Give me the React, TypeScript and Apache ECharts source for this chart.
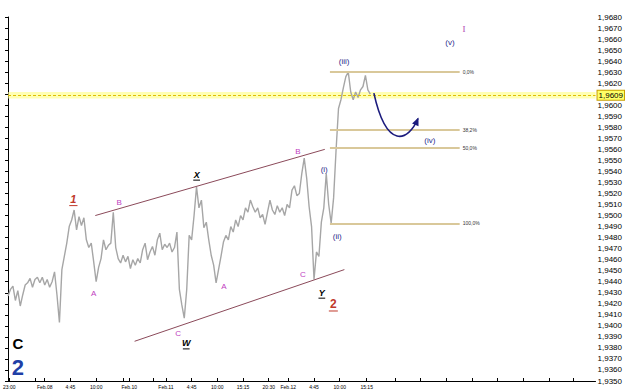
import React, { useEffect, useRef } from 'react';
import * as echarts from 'echarts';

const W = 625;
const H = 392;

// 30-minute closes (x axis is counted in 15-minute bars)
const BAR_STEP = 2;
const closes = [
  1.9427, 1.9433, 1.9436, 1.9423, 1.9432, 1.9418, 1.9428, 1.9437, 1.9439, 1.9443,
  1.9435, 1.9442, 1.9444, 1.9439, 1.9444, 1.9437, 1.9442, 1.9435, 1.9440, 1.9449,
  1.9428, 1.9403, 1.9451, 1.9463, 1.9475, 1.9490, 1.9496, 1.9505, 1.9487, 1.9499,
  1.9491, 1.9498, 1.9478, 1.9471, 1.9475, 1.9458, 1.9440, 1.9453, 1.9461, 1.9478,
  1.9469, 1.9473, 1.9475, 1.9503, 1.9471, 1.9461, 1.9457, 1.9464, 1.9458, 1.9463,
  1.9452, 1.9460, 1.9455, 1.9461, 1.9457, 1.9469, 1.9475, 1.9460, 1.9467, 1.9472,
  1.9464, 1.9478, 1.9484, 1.9469, 1.9474, 1.9471, 1.9475, 1.9467, 1.9471, 1.9485,
  1.9433, 1.9419, 1.9407, 1.9433, 1.9482, 1.9478, 1.9500, 1.9526, 1.9507, 1.9514,
  1.9489, 1.9494, 1.9478, 1.9464, 1.9455, 1.9439, 1.9451, 1.9463, 1.9476, 1.9482,
  1.9478, 1.9490, 1.9485, 1.9496, 1.9490, 1.9500, 1.9496, 1.9507, 1.9503, 1.9514,
  1.9508, 1.9503, 1.9507, 1.9498, 1.9501, 1.9492, 1.9503, 1.9514, 1.9505, 1.9501,
  1.9509, 1.9503, 1.9507, 1.9500, 1.9510, 1.9507, 1.9523, 1.9527, 1.9518, 1.9520,
  1.9538, 1.9552, 1.9534, 1.9508, 1.9490, 1.9442, 1.9467, 1.9463, 1.9494, 1.9507,
  1.9538, 1.9510, 1.9493, 1.9516, 1.9559, 1.9597, 1.9605, 1.9616, 1.9626, 1.9630,
  1.9612, 1.9605, 1.9612, 1.9607, 1.9614, 1.9617, 1.9627, 1.9614, 1.9610,
];

const xTickBars = [1, 22, 30, 51, 72, 94, 99, 119, 129, 150, 171, 192, 213, 229, 250, 271, 293, 316, 337, 358, 379, 400, 421, 442, 462];
const xTickLabels = ['23:00', '', 'Feb.08', '4:45', '10:00', '', 'Feb.10', '', 'Feb.11', '4:45', '10:00', '15:15', '20:30', 'Feb.12', '4:45', '10:00', '15:15', '', '', '', '', '', '', '', ''];

const Y_MIN = 1.935;
const Y_MAX = 1.968;
const CURRENT = 1.9609;

const FIB_HIGH = 1.963;
const FIB_LOW = 1.9493;
const FIB_RATIOS = [0, 0.382, 0.5, 1];
const FIB_START = 263;
const FIB_END = 369;

const channelUpper = [[71.3, 1.95], [258.8, 1.956]];
const channelLower = [[103.4, 1.9386], [274.8, 1.9451]];

// [text, bar, price, color, font, underline]
const labels: [string, number, number, string, string, boolean][] = [
  ['1', 53.4, 1.9515, '#c0392b', 'italic bold 11px "Liberation Sans"', true],
  ['B', 90.8, 1.9512, '#c040c0', '8px "Liberation Sans"', false],
  ['A', 70, 1.9429, '#c040c0', '8px "Liberation Sans"', false],
  ['C', 8, 1.9384, '#000000', 'bold 15px "Liberation Sans"', false],
  ['2', 8, 1.9362, '#1f3fa6', 'bold 22px "Liberation Sans"', false],
  ['C', 138.9, 1.9393, '#c040c0', '8px "Liberation Sans"', false],
  ['W', 145.6, 1.9384, '#000000', 'italic bold 9px "Liberation Sans"', true],
  ['X', 154.1, 1.9537, '#000000', 'italic bold 9px "Liberation Sans"', true],
  ['A', 176.3, 1.9436, '#c040c0', '8px "Liberation Sans"', false],
  ['B', 236.9, 1.9558, '#c040c0', '8px "Liberation Sans"', false],
  ['C', 240.9, 1.9447, '#c040c0', '8px "Liberation Sans"', false],
  ['Y', 256.4, 1.943, '#000000', 'italic bold 9px "Liberation Sans"', true],
  ['2', 265.8, 1.942, '#c0392b', 'bold 12px "Liberation Sans"', true],
  ['(i)', 258.3, 1.9542, '#2b2b8c', '8px "Liberation Sans"', false],
  ['(ii)', 269, 1.9481, '#2b2b8c', '8px "Liberation Sans"', false],
  ['(iii)', 274.6, 1.964, '#2b2b8c', '8px "Liberation Sans"', false],
  ['(iv)', 344.6, 1.9568, '#2b2b8c', '8px "Liberation Sans"', false],
  ['(v)', 361.1, 1.9657, '#2b2b8c', '8px "Liberation Sans"', false],
  ['I', 372.6, 1.9669, '#b040b0', '9px "Liberation Serif"', false],
];

// blue arrow: start, control 1, control 2, end (bar, price)
const arrowPath = [[298.9, 1.9611], [309.3, 1.9559], [326.9, 1.9567], [335, 1.9588]];

const fmtPrice = (v: number) => v.toFixed(4).replace('.', ',');

export default function App() {
  const ref = useRef<HTMLDivElement>(null);
  useEffect(() => {
    if (!ref.current) return;
    const chart = echarts.init(ref.current, null, { renderer: 'svg', width: W, height: H });
    const tickLabelMap: Record<number, string> = {};
    xTickBars.forEach((b, i) => (tickLabelMap[b] = xTickLabels[i]));

    const fibLines = FIB_RATIOS.map((r) => {
      const lvl = FIB_HIGH - r * (FIB_HIGH - FIB_LOW);
      return [
        {
          coord: [FIB_START, lvl],
          lineStyle: { color: '#d9c89a', width: 2, type: 'solid' },
          label: {
            show: true,
            position: 'end',
            formatter: (r * 100).toFixed(1).replace('.', ',') + '%',
            fontSize: 5,
            color: '#333',
            distance: 3,
            fontFamily: 'Liberation Sans',
          },
        },
        { coord: [FIB_END, lvl] },
      ];
    });
    const chanLine = (pts: number[][]) => [
      { coord: pts[0], lineStyle: { color: '#8b4a5a', width: 1, type: 'solid' }, label: { show: false } },
      { coord: pts[1] },
    ];

    chart.setOption({
      animation: false,
      backgroundColor: '#ffffff',
      grid: { left: 0, right: 26, top: 17, bottom: 11 },
      xAxis: {
        type: 'value',
        min: 0,
        max: 480,
        axisLine: { show: true, lineStyle: { color: '#000', width: 1 } },
        axisTick: { show: true, inside: true, length: 3, customValues: xTickBars, lineStyle: { color: '#000' } },
        axisLabel: {
          customValues: xTickBars,
          formatter: (v: number) => tickLabelMap[v] ?? '',
          fontSize: 5,
          color: '#000',
          margin: 3,
          fontFamily: 'Liberation Sans',
          hideOverlap: false,
        },
        splitLine: { show: false },
      },
      yAxis: {
        type: 'value',
        position: 'right',
        min: Y_MIN,
        max: Y_MAX,
        interval: 0.001,
        axisLine: { show: true, lineStyle: { color: '#000', width: 1 } },
        axisTick: { show: true, inside: true, length: 3, lineStyle: { color: '#000' } },
        axisLabel: {
          formatter: fmtPrice,
          fontSize: 8,
          color: '#000',
          margin: 2,
          fontFamily: 'Liberation Sans',
        },
        splitLine: { show: false },
      },
      series: [
        {
          type: 'line',
          data: closes.map((v, i) => [i * BAR_STEP, v]),
          showSymbol: false,
          symbol: 'none',
          lineStyle: { color: '#a6a6a6', width: 1.4 },
          z: 3,
          markArea: {
            silent: true,
            itemStyle: { color: 'rgba(255,255,130,0.6)' },
            data: [[{ yAxis: CURRENT - 0.0003 }, { yAxis: CURRENT + 0.0003 }]],
            z: 1,
          },
          markLine: {
            silent: true,
            precision: 4,
            symbol: ['none', 'none'],
            data: [
              {
                yAxis: CURRENT,
                lineStyle: { color: '#e0c000', width: 1, type: [3, 2] },
                label: {
                  show: true,
                  position: 'end',
                  formatter: fmtPrice(CURRENT),
                  fontSize: 8,
                  color: '#000',
                  backgroundColor: '#ffff66',
                  borderColor: '#c8a000',
                  borderWidth: 1,
                  padding: [1, 1, 0, 1],
                  distance: 2,
                  fontFamily: 'Liberation Sans',
                },
              },
              ...fibLines,
              chanLine(channelUpper),
              chanLine(channelLower),
            ],
          },
        },
      ],
    });

    const px = (p: number[]) => chart.convertToPixel({ gridIndex: 0 }, p) as number[];
    const graphics: any[] = [];
    labels.forEach(([text, b, p, color, font, underline]) => {
      const [x, y] = px([b, p]);
      graphics.push({
        type: 'text',
        x,
        y,
        z: 10,
        style: { text, fill: color, font, textAlign: 'center', textVerticalAlign: 'middle' },
      });
      if (underline) {
        const size = parseFloat(font.match(/(\d+)px/)![1]);
        const w = size * 0.75 * text.length;
        graphics.push({
          type: 'line',
          z: 10,
          shape: { x1: x - w / 2, y1: y + size * 0.6, x2: x + w / 2, y2: y + size * 0.6 },
          style: { stroke: color, lineWidth: 1 },
        });
      }
    });
    const [p0, c1, c2, p3] = arrowPath.map(px);
    graphics.push({
      type: 'bezierCurve',
      z: 10,
      shape: { x1: p0[0], y1: p0[1], cpx1: c1[0], cpy1: c1[1], cpx2: c2[0], cpy2: c2[1], x2: p3[0], y2: p3[1] },
      style: { stroke: '#1b1b7d', lineWidth: 1.6, fill: null },
    });
    const dx = p3[0] - c2[0];
    const dy = p3[1] - c2[1];
    const len = Math.hypot(dx, dy) || 1;
    const ux = dx / len;
    const uy = dy / len;
    const hl = 7;
    const hw = 3.5;
    const bx = p3[0] - ux * hl;
    const by = p3[1] - uy * hl;
    graphics.push({
      type: 'polygon',
      z: 10,
      shape: {
        points: [
          [p3[0] + ux * 1, p3[1] + uy * 1],
          [bx - uy * hw, by + ux * hw],
          [bx + uy * hw, by - ux * hw],
        ],
      },
      style: { fill: '#1b1b7d' },
    });
    chart.setOption({ graphic: graphics });
    return () => chart.dispose();
  }, []);
  return (
    <div
      ref={ref}
      style={{ position: 'absolute', left: 0, top: 0, width: W, height: H, background: '#fff' }}
    />
  );
}
